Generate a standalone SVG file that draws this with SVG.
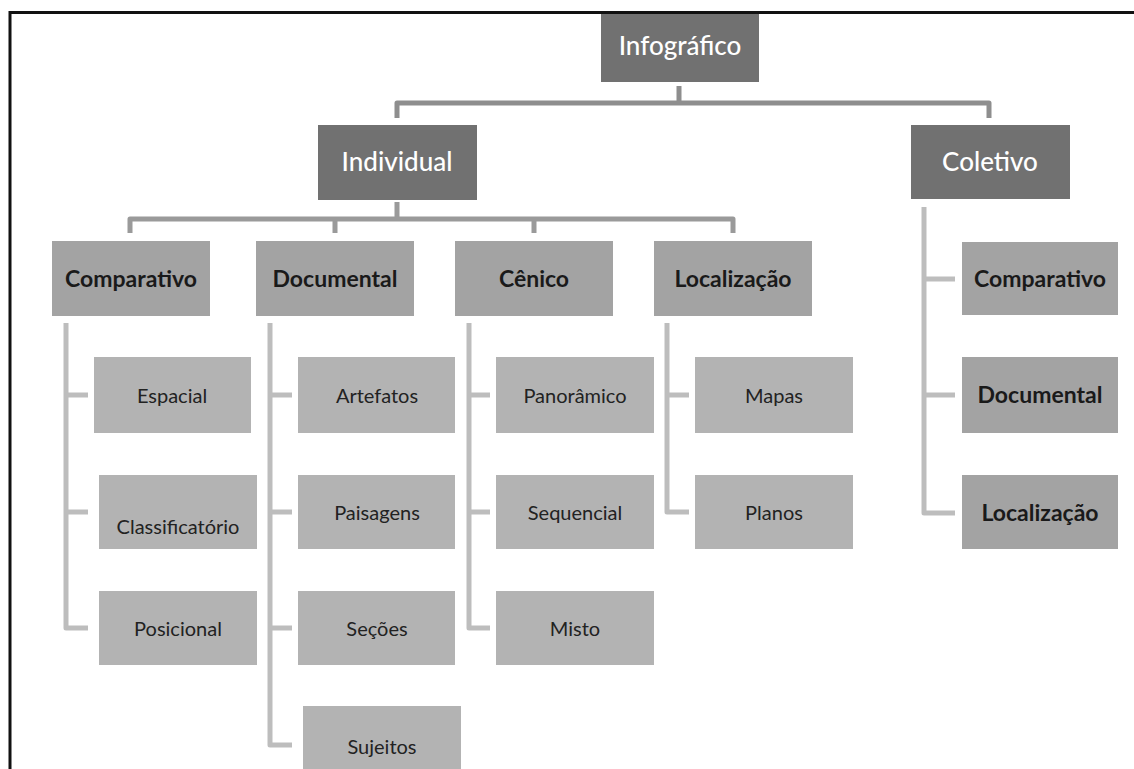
<svg xmlns="http://www.w3.org/2000/svg" width="1134" height="769" viewBox="0 0 1134 769">
<style>
  .frame{fill:none;stroke:#111;stroke-width:3}
  .c1{fill:none;stroke:#8e8e8e;stroke-width:5;stroke-linejoin:round}
  .c2{fill:none;stroke:#9a9a9a;stroke-width:5;stroke-linejoin:round}
  .c3{fill:none;stroke:#bdbdbd;stroke-width:5;stroke-linejoin:round}
  .n1 rect{fill:#717171}
  .n2 rect{fill:#a3a3a3}
  .n3 rect{fill:#b3b3b3}
  .n1 text{font-family:Lato,"Open Sans",sans-serif;font-size:26px;fill:#fff;text-anchor:middle;font-weight:500}
  .n2 text{font-family:Lato,"Open Sans",sans-serif;font-size:23px;fill:#1a1a1a;text-anchor:middle;font-weight:bold}
  .n3 text{font-family:Lato,"Open Sans",sans-serif;font-size:20px;fill:#222;text-anchor:middle}
</style>
<rect width="1134" height="769" fill="#fff"/>
<path class="frame" d="M10,769 V12.5 H1134"/>
<g id="connectors">
  <path class="c1" d="M679,86 V103 H397 V118 M679,103 H989 V118"/>
  <path class="c2" d="M397,202 V219 M130,233 V219 H733 V233 M335,219 V233 M534,219 V233"/>
  <path class="c3" d="M66,323 V628 H88 M66,395 H88 M66,512 H88"/>
  <path class="c3" d="M270,323 V745 H292 M270,395 H292 M270,512 H292 M270,628 H292"/>
  <path class="c3" d="M469,323 V628 H490 M469,395 H490 M469,512 H490"/>
  <path class="c3" d="M667,323 V512 H689 M667,395 H689"/>
  <path class="c3" d="M924,207 V513 H955 M924,279 H955 M924,395 H955"/>
</g>
<g id="infografico" class="n1"><rect x="601" y="14" width="158" height="68"/><text x="680" y="55" font-size="30">Infográfico</text></g>
<g id="individual" class="n1"><rect x="318" y="125" width="159" height="75"/><text x="397" y="171">Individual</text></g>
<g id="coletivo" class="n1"><rect x="911" y="125" width="159" height="74"/><text x="990" y="171">Coletivo</text></g>
<g id="comparativo" class="n2"><rect x="52" y="241" width="158" height="75"/><text x="131" y="287">Comparativo</text></g>
<g id="documental" class="n2"><rect x="256" y="241" width="158" height="75"/><text x="335" y="287">Documental</text></g>
<g id="cenico" class="n2"><rect x="455" y="241" width="158" height="75"/><text x="534" y="287">Cênico</text></g>
<g id="localizacao" class="n2"><rect x="654" y="241" width="158" height="75"/><text x="733" y="287">Localização</text></g>
<g id="espacial" class="n3"><rect x="94" y="357" width="157" height="76"/><text x="172" y="403">Espacial</text></g>
<g id="classificatorio" class="n3"><rect x="99" y="475" width="158" height="74"/><text x="178" y="534">Classificatório</text></g>
<g id="posicional" class="n3"><rect x="99" y="591" width="158" height="74"/><text x="178" y="636">Posicional</text></g>
<g id="artefatos" class="n3"><rect x="298" y="357" width="157" height="76"/><text x="377" y="403">Artefatos</text></g>
<g id="paisagens" class="n3"><rect x="298" y="475" width="157" height="74"/><text x="377" y="520">Paisagens</text></g>
<g id="secoes" class="n3"><rect x="298" y="591" width="157" height="74"/><text x="377" y="636">Seções</text></g>
<g id="sujeitos" class="n3"><rect x="303" y="706" width="158" height="70"/><text x="382" y="754">Sujeitos</text></g>
<g id="panoramico" class="n3"><rect x="496" y="357" width="158" height="76"/><text x="575" y="403">Panorâmico</text></g>
<g id="sequencial" class="n3"><rect x="496" y="475" width="158" height="74"/><text x="575" y="520">Sequencial</text></g>
<g id="misto" class="n3"><rect x="496" y="591" width="158" height="74"/><text x="575" y="636">Misto</text></g>
<g id="mapas" class="n3"><rect x="695" y="357" width="158" height="76"/><text x="774" y="403">Mapas</text></g>
<g id="planos" class="n3"><rect x="695" y="475" width="158" height="74"/><text x="774" y="520">Planos</text></g>
<g id="col-comparativo" class="n2"><rect x="962" y="242" width="156" height="73"/><text x="1040" y="287" font-size="21">Comparativo</text></g>
<g id="col-documental" class="n2"><rect x="962" y="357" width="156" height="76"/><text x="1040" y="403">Documental</text></g>
<g id="col-localizacao" class="n2"><rect x="962" y="475" width="156" height="74"/><text x="1040" y="521">Localização</text></g>
</svg>
